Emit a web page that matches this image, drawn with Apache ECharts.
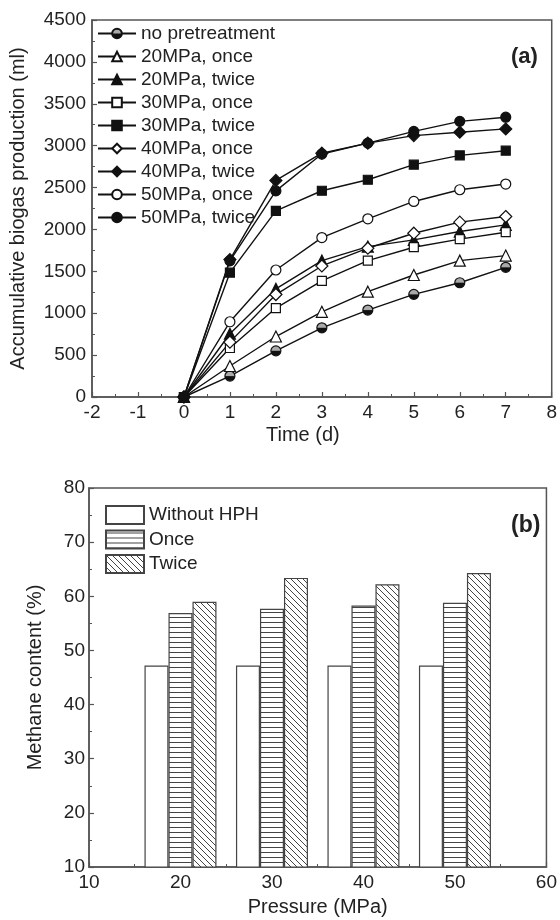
<!DOCTYPE html>
<html>
<head>
<meta charset="utf-8">
<script src="https://cdn.jsdelivr.net/npm/echarts@6/dist/echarts.min.js"></script>
<style>
html, body { margin: 0; padding: 0; background: #fff; }
#chart { width: 560px; height: 920px; }
</style>
</head>
<body>
<div id="chart"></div>
<script>
// (a) accumulative biogas production, ml
var days = [0, 1, 2, 3, 4, 5, 6, 7];
var noPre = [0, 250, 551, 826, 1038, 1225, 1364, 1548];
var p20once = [0, 370, 722, 1017, 1257, 1456, 1628, 1688];
var p20twice = [0, 755, 1291, 1628, 1795, 1875, 1975, 2055];
var p30once = [0, 585, 1062, 1385, 1628, 1788, 1884, 1967];
var p30twice = [0, 1484, 2222, 2462, 2593, 2773, 2884, 2940];
var p40once = [0, 655, 1223, 1564, 1776, 1955, 2087, 2154];
var p40twice = [0, 1640, 2585, 2910, 3030, 3120, 3160, 3200];
var p50once = [0, 898, 1516, 1903, 2127, 2334, 2474, 2542];
var p50twice = [0, 1625, 2460, 2900, 3030, 3170, 3290, 3340];

// (b) methane content, %
var pressures = [20, 30, 40, 50];
var withoutHPH = [47.2, 47.2, 47.2, 47.2];
var once = [56.9, 57.7, 58.3, 58.8];
var twice = [59.0, 63.4, 62.2, 64.3];

var ink = "#111";
var axisGray = "#555";
var textColor = "#222";
var font = "Liberation Sans";

function pairs(xs, ys) {
    return xs.map(function (x, i) { return [x, ys[i]]; });
}

function hatch(kind) {
    var c = document.createElement("canvas");
    var g;
    if (kind === "h") {
        c.width = 6; c.height = 5;
        g = c.getContext("2d");
        g.fillStyle = "#fff";
        g.fillRect(0, 0, 6, 5);
        g.strokeStyle = "#444";
        g.lineWidth = 1;
        g.beginPath();
        g.moveTo(0, 2.5); g.lineTo(6, 2.5);
        g.stroke();
    } else {
        c.width = 6; c.height = 6;
        g = c.getContext("2d");
        g.fillStyle = "#fff";
        g.fillRect(0, 0, 6, 6);
        g.strokeStyle = "#444";
        g.lineWidth = 1;
        g.beginPath();
        g.moveTo(-1, -1); g.lineTo(7, 7);
        g.moveTo(5, -1); g.lineTo(7, 1);
        g.moveTo(-1, 5); g.lineTo(1, 7);
        g.stroke();
    }
    return { image: c, repeat: "repeat" };
}

var halfFill = {
    type: "linear", x: 0, y: 0, x2: 0, y2: 1,
    colorStops: [
        { offset: 0, color: "#aaa" }, { offset: 0.45, color: "#aaa" },
        { offset: 0.55, color: "#111" }, { offset: 1, color: "#111" }
    ]
};

function lineSeries(name, values, symbol, size, fill) {
    return {
        name: name,
        type: "line",
        xAxisIndex: 0,
        yAxisIndex: 0,
        data: pairs(days, values),
        symbol: symbol,
        symbolSize: size,
        showAllSymbol: true,
        lineStyle: { color: ink, width: 1.4 },
        itemStyle: { color: fill, borderColor: ink, borderWidth: 1.2 },
        emphasis: { disabled: true }
    };
}

function barSeries(name, values, fill) {
    return {
        name: name,
        type: "bar",
        xAxisIndex: 1,
        yAxisIndex: 1,
        data: pairs(pressures, values),
        barWidth: 24,
        barGap: "0%",
        itemStyle: { color: fill, borderColor: "#444", borderWidth: 1.2 },
        emphasis: { disabled: true }
    };
}

function axisCommon() {
    return {
        axisLine: { show: true, onZero: false, lineStyle: { color: axisGray, width: 1.5 } },
        axisTick: { show: true, inside: true, length: 5, lineStyle: { color: axisGray, width: 1.2 } },
        minorTick: { show: true, splitNumber: 2, length: 3, lineStyle: { color: axisGray } },
        splitLine: { show: false },
        axisLabel: {
            color: textColor, fontSize: 19, fontFamily: font, margin: 6,
            formatter: function (v) { return String(v); }
        },
        nameTextStyle: { color: textColor, fontSize: 20, fontFamily: font }
    };
}

var xA = axisCommon();
xA.type = "value"; xA.gridIndex = 0; xA.min = -2; xA.max = 8; xA.interval = 1;
xA.name = "Time (d)"; xA.nameLocation = "middle"; xA.nameGap = 28;
xA.nameTextStyle.padding = [0, 38, 0, 0];

var yA = axisCommon();
yA.type = "value"; yA.gridIndex = 0; yA.min = 0; yA.max = 4500; yA.interval = 500;
yA.name = "Accumulative biogas production (ml)"; yA.nameLocation = "middle"; yA.nameGap = 64;

var xB = axisCommon();
xB.type = "value"; xB.gridIndex = 1; xB.min = 10; xB.max = 60; xB.interval = 10;
xB.name = "Pressure (MPa)"; xB.nameLocation = "middle"; xB.nameGap = 30;

var yB = axisCommon();
yB.type = "value"; yB.gridIndex = 1; yB.min = 10; yB.max = 80; yB.interval = 10;
yB.name = "Methane content (%)"; yB.nameLocation = "middle"; yB.nameGap = 44;
yB.axisLabel.margin = 4;

var option = {
    backgroundColor: "#fff",
    animation: false,
    title: [
        { text: "(a)", left: 511, top: 46, padding: 0, textStyle: { fontSize: 22, fontWeight: "bold", color: textColor, fontFamily: font } },
        { text: "(b)", left: 511, top: 514, padding: 0, textStyle: { fontSize: 23, fontWeight: "bold", color: textColor, fontFamily: font } }
    ],
    grid: [
        { left: 91, right: 6, top: 20, height: 377, show: true, borderColor: axisGray, borderWidth: 1.5 },
        { left: 89, right: 5, top: 488, height: 379, show: true, borderColor: axisGray, borderWidth: 1.5 }
    ],
    legend: [
        {
            orient: "vertical", left: 97, top: 24, padding: 0,
            itemWidth: 38, itemHeight: 12, itemGap: 4,
            textStyle: { color: textColor, fontSize: 19, lineHeight: 19, fontFamily: font },
            data: ["no pretreatment", "20MPa, once", "20MPa, twice", "30MPa, once", "30MPa, twice",
                "40MPa, once", "40MPa, twice", "50MPa, once", "50MPa, twice"]
        },
        {
            orient: "vertical", left: 105, top: 505, padding: 0,
            itemWidth: 38, itemHeight: 18, itemGap: 4.5, icon: "rect",
            textStyle: { color: textColor, fontSize: 19, lineHeight: 18, fontFamily: font },
            data: ["Without HPH", "Once", "Twice"]
        }
    ],
    xAxis: [xA, xB],
    yAxis: [yA, yB],
    series: [
        lineSeries("no pretreatment", noPre, "circle", 10, halfFill),
        lineSeries("20MPa, once", p20once, "triangle", 11, "#fff"),
        lineSeries("20MPa, twice", p20twice, "triangle", 11, ink),
        lineSeries("30MPa, once", p30once, "rect", 9, "#fff"),
        lineSeries("30MPa, twice", p30twice, "rect", 9, ink),
        lineSeries("40MPa, once", p40once, "diamond", 12, "#fff"),
        lineSeries("40MPa, twice", p40twice, "diamond", 12, ink),
        lineSeries("50MPa, once", p50once, "circle", 10, "#fff"),
        lineSeries("50MPa, twice", p50twice, "circle", 10, ink),
        barSeries("Without HPH", withoutHPH, "#fff"),
        barSeries("Once", once, hatch("h")),
        barSeries("Twice", twice, hatch("d"))
    ]
};

echarts.init(document.getElementById("chart")).setOption(option);
</script>
</body>
</html>
